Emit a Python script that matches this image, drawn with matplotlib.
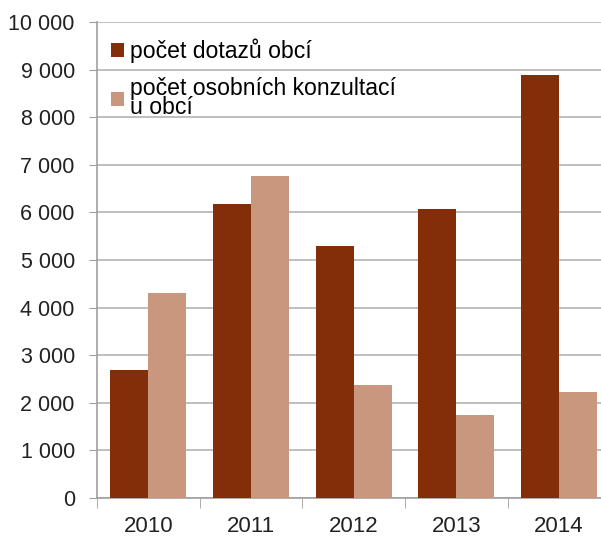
import matplotlib
matplotlib.use("Agg")
import matplotlib.pyplot as plt
import numpy as np
from matplotlib.ticker import FuncFormatter

categories = ["2010", "2011", "2012", "2013", "2014"]
dotazy = [2690, 6180, 5290, 6080, 8880]
konzultace = [4310, 6760, 2370, 1740, 2230]
series_labels = ["počet dotazů obcí", "počet osobních konzultací\nu obcí"]
colors = ["#832D09", "#C9977D"]

plt.rcParams['font.family'] = ['Liberation Sans', 'DejaVu Sans']
fig = plt.figure(figsize=(6.01, 5.36), dpi=100)
ax = fig.add_axes([97/601, 38/536, 513.5/601, 476/536])

x = np.arange(len(categories))
w = 0.37
ax.bar(x - w/2, dotazy, w, color=colors[0], label=series_labels[0], zorder=3)
ax.bar(x + w/2, konzultace, w, color=colors[1], label=series_labels[1], zorder=3)

ax.set_xlim(-0.5, len(categories) - 0.5)
ax.set_ylim(0, 10000)
ax.set_yticks(np.arange(0, 10001, 1000))
ax.yaxis.set_major_formatter(FuncFormatter(lambda v, p: f"{int(v):,}".replace(",", " ")))
ax.set_xticks(x)
ax.set_xticklabels(categories)
ax.set_xticks(np.arange(-0.5, len(categories), 1), minor=True)
ax.tick_params(axis='x', which='major', length=0, pad=13, labelsize=16, labelcolor='#222222')
ax.tick_params(axis='x', which='minor', length=7, color='#A0A0A0')
ax.tick_params(axis='y', length=6, color='#A0A0A0', pad=10, labelsize=15.5, labelcolor='#222222')
ax.grid(axis='y', color='#B4B4B4', linewidth=1.2, zorder=0)
for s in ['top', 'right']:
    ax.spines[s].set_visible(False)
for s in ['left', 'bottom']:
    ax.spines[s].set_color('#A0A0A0')
    ax.spines[s].set_linewidth(1.2)

leg = ax.legend(loc='upper left', bbox_to_anchor=(0.01, 0.985), frameon=False,
                fontsize=16.6, handlelength=0.55, handleheight=0.55, handletextpad=0.25,
                labelspacing=0.6, borderaxespad=0)
for t in leg.get_texts():
    t.set_linespacing(0.78)
fig.savefig("out.png", dpi=100)
